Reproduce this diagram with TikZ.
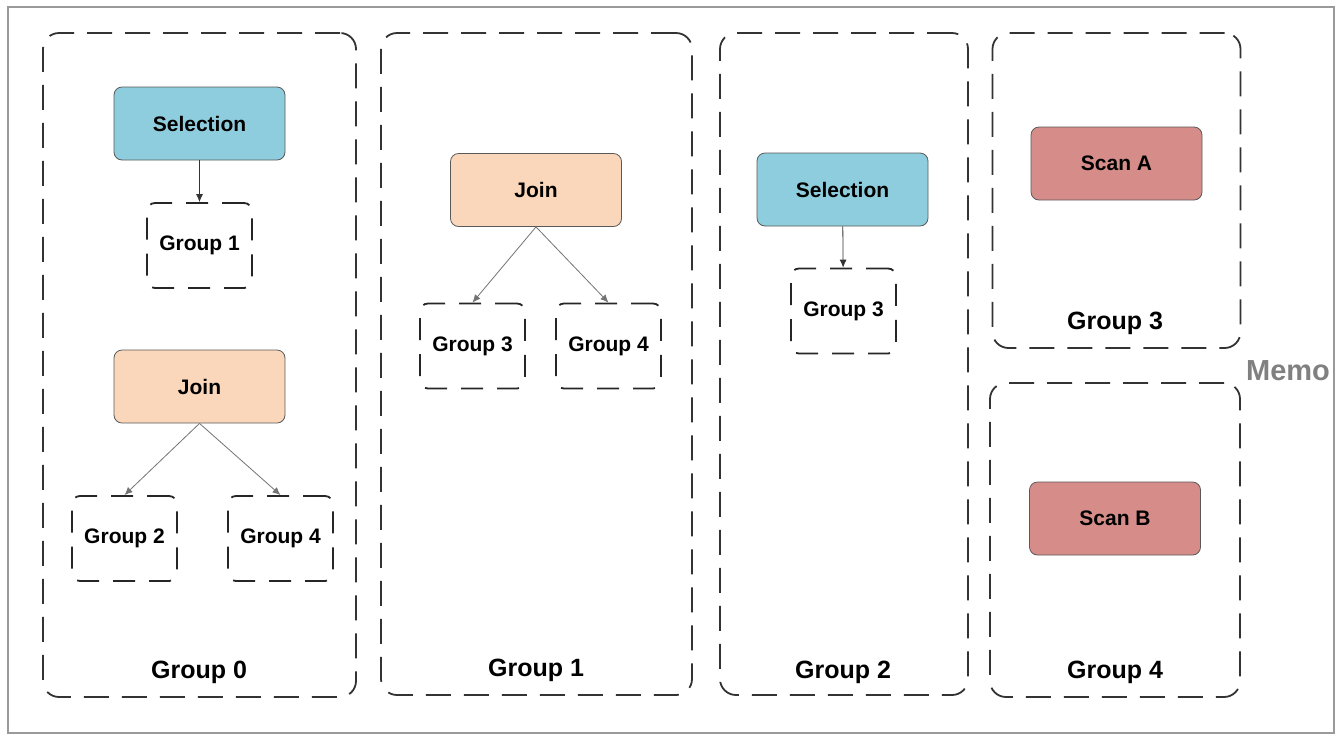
\documentclass[tikz,border=0pt]{standalone}
\usepackage{fontspec}
\setmainfont{Liberation Sans}
\usepackage{tikz}
\usetikzlibrary{arrows.meta}

\definecolor{selblue}{RGB}{142,205,221}
\definecolor{joinpeach}{RGB}{250,215,187}
\definecolor{scanred}{RGB}{214,141,138}
\definecolor{memogray}{RGB}{128,128,128}

\tikzset{
  opbox/.style={draw=black!65,rounded corners=4pt,minimum width=85.5pt,minimum height=36.5pt,
    font=\bfseries\fontsize{10.5}{12}\selectfont},
  bigbox/.style={draw=black!80,line width=0.9pt,dash pattern=on 12.5pt off 6.5pt,rounded corners=8pt},
  smallbox/.style={draw=black!85,line width=0.9pt,dash pattern=on 11pt off 7pt,rounded corners=4pt,
    minimum width=52.5pt,minimum height=42.5pt,font=\bfseries\fontsize{10.5}{12}\selectfont},
  grouplabel/.style={font=\bfseries\fontsize{12.5}{14}\selectfont},
  arr/.style={-{Latex[length=4pt,width=3.5pt]},black!80,thin},
}

\begin{document}
\begin{tikzpicture}[x=0.5pt,y=-0.5pt]
\useasboundingbox (0,0) rectangle (1343,735);
\draw[memogray!80,line width=1pt] (8,7) rectangle (1334,733);

% groups in the memo
\node[bigbox,minimum width=156.5pt,minimum height=332pt] (g0) at (199.5,365) {};
\node[bigbox,minimum width=155.5pt,minimum height=331pt] (g1) at (536.5,364) {};
\node[bigbox,minimum width=124pt,minimum height=331pt] (g2) at (844,364) {};
\node[bigbox,minimum width=124pt,minimum height=157.5pt] (g3) at (1116.5,190.5) {};
\node[bigbox,minimum width=125pt,minimum height=157pt] (g4) at (1115,540) {};

\node[grouplabel] (lg0) at (199,672) {Group 0};
\node[grouplabel] (lg1) at (536,670) {Group 1};
\node[grouplabel] (lg2) at (843,672) {Group 2};
\node[grouplabel] (lg3) at (1115,323) {Group 3};
\node[grouplabel] (lg4) at (1115,672) {Group 4};
\node[font=\bfseries\fontsize{14.5}{16}\selectfont,text=memogray] (memo) at (1288,371) {Memo};

% group 0
\node[opbox,fill=selblue] (sel0) at (199.5,123.5) {Selection};
\node[smallbox] (g0a) at (199.5,245.5) {Group 1};
\draw[arr] (sel0) -- (g0a);

\node[opbox,fill=joinpeach] (join0) at (199.5,386.5) {Join};
\node[smallbox] (g0b) at (124.5,538.5) {Group 2};
\node[smallbox] (g0c) at (280.5,538.5) {Group 4};
\draw[arr,black!55] (join0.south) -- (g0b.north);
\draw[arr,black!55] (join0.south) -- (g0c.north);

% group 1
\node[opbox,fill=joinpeach] (join1) at (536,190) {Join};
\node[smallbox] (g1a) at (472.5,346) {Group 3};
\node[smallbox] (g1b) at (608.5,346) {Group 4};
\draw[arr,black!55] (join1.south) -- (g1a.north);
\draw[arr,black!55] (join1.south) -- (g1b.north);

% group 2
\node[opbox,fill=selblue] (sel2) at (842.5,189.5) {Selection};
\node[smallbox] (g2a) at (843.5,311) {Group 3};
\draw[arr] (sel2) -- (g2a);

% groups 3 and 4
\node[opbox,fill=scanred] (scana) at (1116.5,163.5) {Scan A};
\node[opbox,fill=scanred] (scanb) at (1115,518.5) {Scan B};
\end{tikzpicture}
\end{document}
